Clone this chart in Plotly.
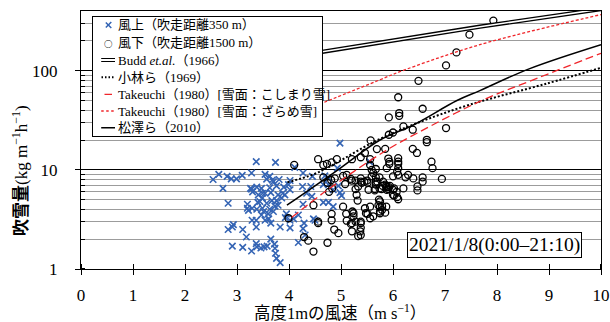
import plotly.graph_objects as go

# ---------------- data ----------------
# 風上（吹走距離350 m） : wind speed (m/s), drift (kg m-1 h-1)
up_u = [2.54, 2.65, 2.81, 2.89, 2.99, 3.10, 3.28, 3.37, 2.73, 3.28, 3.30, 3.49, 2.83, 3.20, 3.20, 3.22,
        3.29, 3.40, 3.49, 3.49, 3.51, 3.29, 3.37, 3.37, 2.83, 2.91, 3.11, 3.18, 2.91, 3.11, 3.28, 3.37,
        3.38, 3.46, 3.52, 2.93, 3.26, 3.38,
        3.74, 3.54, 3.63, 3.57, 3.70, 4.02, 4.11, 4.27, 3.47, 3.63, 3.76, 3.41, 3.54, 3.65, 3.79, 3.86,
        3.92, 3.44, 3.57, 3.67, 3.76, 3.38, 3.63, 3.73, 3.79, 3.47, 3.60, 3.70, 3.54, 3.65, 3.61, 4.02,
        3.83, 4.02, 4.27, 4.31, 4.18, 3.65, 3.72, 3.73, 3.74, 3.76, 3.83, 3.58, 4.45, 4.26, 4.42, 4.34,
        4.44, 4.69, 4.76, 4.66, 4.76, 4.85, 4.95, 4.98, 5.01, 4.27, 4.18, 4.29, 4.66, 4.76, 4.85, 4.47,
        4.98, 5.55, 4.93, 3.90, 3.99, 4.02, 3.95, 4.09, 3.93, 4.50, 3.81, 3.68, 3.88]
up_q = [8.0, 9.0, 8.6, 8.1, 8.1, 8.8, 9.3, 12.1, 6.5, 6.4, 6.0, 5.8, 4.6, 4.5, 4.1, 3.9,
        4.1, 4.7, 5.2, 4.1, 3.8, 3.1, 3.1, 2.65, 2.5, 2.65, 2.5, 2.1, 1.7, 1.65, 1.52, 1.8,
        1.67, 1.63, 1.67, 2.8, 6.5, 6.7,
        11.9, 9.0, 8.6, 8.05, 7.6, 7.8, 10.6, 9.3, 6.5, 6.6, 6.9, 5.6, 5.8, 5.9, 5.6, 5.2,
        5.6, 4.8, 4.6, 4.9, 4.9, 4.0, 4.0, 4.3, 4.4, 3.5, 3.6, 3.8, 3.1, 2.9, 3.2, 3.1,
        2.65, 2.6, 2.55, 2.2, 1.85, 2.0, 1.78, 1.62, 1.44, 1.28, 1.16, 1.7, 8.6, 6.8, 6.8, 5.8,
        5.4, 8.7, 8.3, 7.1, 7.1, 6.3, 6.9, 5.9, 5.5, 4.5, 3.5, 2.9, 4.7, 4.7, 4.25, 3.2,
        18.6, 12.1, 10.4, 6.7, 7.1, 6.3, 3.6, 3.2, 3.3, 3.1, 8.0, 7.9, 5.8]

# 風下（吹走距離1500 m）
down_u = [7.93, 7.47, 7.22, 7.02, 6.49, 6.10, 5.92, 6.12, 6.12, 6.57, 6.20, 5.92, 6.00, 6.38, 7.02, 6.65,
          6.65, 6.38, 5.85, 5.57, 5.69, 6.46, 5.21, 5.38, 5.56, 5.91, 5.93, 5.93, 6.10, 6.10, 6.10, 6.10,
          6.74, 6.76, 5.56, 5.59, 5.62, 5.59, 4.56, 4.66, 4.73, 4.82, 4.92, 5.67, 5.74, 5.70, 5.88, 6.08,
          6.29, 6.39, 6.57, 6.57, 6.94, 6.20, 6.47, 6.47, 5.08, 5.21, 5.38, 5.50, 5.40, 5.67, 5.74, 5.80,
          5.87, 5.88, 5.94, 6.02, 6.07, 6.02, 6.08, 5.30, 5.04, 5.24, 5.10, 5.46, 5.56, 5.62, 5.51, 5.75,
          5.75, 5.87, 5.85, 5.75, 4.82, 4.82, 4.56, 5.21, 5.38, 5.38, 5.38, 4.95, 5.21, 4.37, 4.29, 4.74,
          4.47, 4.10, 4.66, 4.74, 4.77, 4.83, 3.99, 4.47, 4.56, 4.87, 5.46, 6.00, 6.10, 6.24, 4.81, 4.88,
          5.04, 5.11, 5.19, 5.28, 5.38, 5.45, 5.51, 5.67, 5.67, 5.65, 5.81, 5.85, 5.88, 5.92, 5.78, 5.91,
          6.00, 6.00, 5.28, 5.33, 5.53, 5.65, 6.10, 5.32, 5.22, 5.72, 5.79, 5.73, 5.75, 5.48, 5.56, 5.11,
          5.24, 5.28, 5.19, 5.38, 5.37, 5.33, 5.79]
down_q = [320, 231, 153, 113, 79, 54, 33.8, 37.4, 35.1, 41.3, 27.4, 22.6, 23.8, 25.4, 26.4, 20.1,
          19.0, 16.3, 16.3, 19.8, 16.2, 14.8, 12.8, 13.4, 12.8, 13.0, 12.1, 11.5, 13.1, 12.1, 11.5, 10.4,
          12.1, 10.4, 11.2, 10.0, 9.3, 8.6, 12.8, 11.2, 11.5, 11.9, 12.8, 10.2, 8.4, 7.6, 10.4, 9.6,
          8.9, 8.2, 8.4, 7.6, 8.1, 6.5, 6.8, 6.2, 7.2, 7.8, 8.2, 7.8, 7.4, 7.1, 6.5, 6.9,
          6.9, 6.3, 6.9, 6.5, 6.0, 5.5, 5.3, 5.6, 4.25, 3.65, 3.6, 4.1, 4.25, 3.4, 3.6, 4.8,
          4.25, 4.25, 3.7, 3.65, 3.6, 3.1, 2.9, 2.9, 3.0, 2.6, 2.2, 2.3, 2.4, 1.93, 2.1, 1.84,
          1.5, 11.2, 8.4, 7.4, 6.0, 6.5, 3.25, 4.4, 3.0, 2.5, 14.8, 8.6, 8.9, 8.4, 7.9, 8.2,
          8.7, 8.9, 8.1, 7.8, 7.6, 7.6, 7.4, 8.4, 7.6, 6.4, 7.6, 7.1, 6.7, 6.7, 6.4, 6.4,
          6.3, 5.6, 6.4, 6.8, 6.3, 6.2, 5.05, 4.9, 3.8, 4.4, 4.3, 5.0, 3.8, 3.65, 3.25, 3.07,
          3.4, 3.0, 2.85, 2.9, 2.4, 2.15, 3.95]

budd_u = [4.4, 5.75, 7.67, 10.0]
budd_q = [148, 192, 278, 418]
kob_u = [3.97, 4.47, 4.88, 5.62, 6.38, 7.48, 8.95, 10.0]
kob_q = [7.5, 9.0, 11.5, 19.0, 28.5, 45.5, 74, 107]
tk1_u = [4.05, 4.69, 5.85, 6.5, 7.67, 8.8, 10.0]      # こしまり雪
tk1_q = [3.3, 6.0, 15.5, 24, 49, 85, 150]
tk2_u = [4.5, 5.75, 6.13, 7.67, 10.0]                 # ざらめ雪
tk2_q = [44, 81, 97.7, 183, 368]
mat_u = [3.96, 4.88, 5.75, 6.4, 7.23, 7.67, 8.63, 10.0]
mat_q = [4.4, 9.5, 20.0, 28.5, 50.0, 63.0, 105.0, 183.0]

x_ticks = list(range(0, 11))
y_major = [1, 10, 100]
y_minor = [2, 3, 4, 5, 6, 7, 8, 9, 20, 30, 40, 50, 60, 70, 80, 90, 200, 300]

legend_labels = ["風上（吹走距離350 m）", "風下（吹走距離1500 m）", "Budd <i>et.al.</i>（1966）",
                 "小林ら（1969）", "Takeuchi（1980）[雪面：こしまり雪]",
                 "Takeuchi（1980）[雪面：ざらめ雪]", "松澤ら（2010）"]

# ---------------- styling ----------------
SERIF = "Liberation Serif, Noto Sans CJK JP, serif"
BLUE = "#3464b4"
RED = "#f0262b"
W, H = 610, 322
L, R, T, B = 81, 9, 11, 53
PW, PH = W - L - R, H - T - B


def PX(px):
    return (px - L) / PW


def PY(py):
    return (H - B - py) / PH


# tiny offsets so that inner half-ticks sit on the major tick positions
x_cross = [min(max(t + 1e-4, 1e-4), 10 - 1e-4) for t in x_ticks]
y_cross = [v * 1.0002 for v in y_major[:-1]] + [v * 0.9998 for v in y_major[-1:]]

fig = go.Figure()
fig.add_trace(go.Scatter(x=up_u, y=up_q, mode="markers", showlegend=False,
                         marker=dict(symbol="x-thin", size=6.5, line=dict(color=BLUE, width=1.6))))
fig.add_trace(go.Scatter(x=down_u, y=down_q, mode="markers", showlegend=False,
                         marker=dict(symbol="circle-open", size=7, color="black", line=dict(width=1.3))))
fig.add_trace(go.Scatter(x=budd_u, y=budd_q, mode="lines", showlegend=False,
                         line=dict(color="black", width=4.2)))
fig.add_trace(go.Scatter(x=budd_u, y=budd_q, mode="lines", showlegend=False,
                         line=dict(color="white", width=1.6)))
fig.add_trace(go.Scatter(x=kob_u, y=kob_q, mode="lines", showlegend=False, line_shape="spline",
                         line=dict(color="black", width=2, dash="2px,2px")))
fig.add_trace(go.Scatter(x=tk1_u, y=tk1_q, mode="lines", showlegend=False, line_shape="spline",
                         line=dict(color=RED, width=1.3, dash="8px,4px")))
fig.add_trace(go.Scatter(x=tk2_u, y=tk2_q, mode="lines", showlegend=False, line_shape="spline",
                         line=dict(color=RED, width=1.3, dash="3px,2px")))
fig.add_trace(go.Scatter(x=mat_u, y=mat_q, mode="lines", showlegend=False, line_shape="spline",
                         line=dict(color="black", width=1.5)))

fig.update_layout(
    template="none", showlegend=False,
    width=W, height=H, margin=dict(l=L, r=R, t=T, b=B, autoexpand=False),
    paper_bgcolor="white", plot_bgcolor="white",
    font=dict(family=SERIF, size=17, color="black"),
    xaxis=dict(range=[0, 10], tickvals=x_ticks, ticks="outside", ticklen=5, tickwidth=1,
               tickcolor="black", showline=True, linecolor="black", linewidth=1, mirror=True,
               showgrid=False, zeroline=False, ticklabelstandoff=6, automargin=False,
               tickfont=dict(family=SERIF, size=17),
               minor=dict(tickmode="array", tickvals=x_cross, ticks="inside", ticklen=5,
                          tickcolor="black", showgrid=False)),
    yaxis=dict(type="log", range=[0, 2.60206], tickvals=y_major, ticktext=["1", "10", "100"],
               ticks="outside", ticklen=5, tickcolor="black", showline=True, linecolor="black",
               linewidth=1, mirror=True, showgrid=True, gridcolor="black", gridwidth=1,
               zeroline=False, ticklabelstandoff=14, automargin=False,
               tickfont=dict(family=SERIF, size=17),
               minor=dict(tickmode="array", tickvals=y_minor + y_cross, showgrid=True,
                          gridcolor="#9c9c9c", gridwidth=1, ticks="inside", ticklen=4,
                          tickcolor="black")),
)

ann = []
# legend frame: a white, bordered annotation box drawn above the traces
ann.append(dict(text=" ", xref="paper", yref="paper", x=PX(92.3), y=PY(15.7),
                xanchor="left", yanchor="top", showarrow=False, width=229.4, height=119.3,
                bgcolor="white", bordercolor="black", borderwidth=1, borderpad=0,
                font=dict(size=2)))
rows = [25, 42.7, 60, 77.3, 94.3, 111, 127.7]


def seg(x0, y0, x1, y1, color, width):
    """short line drawn as an arrow without head (pixel positions)"""
    ann.append(dict(text=" ", xref="paper", yref="paper", x=PX(x1), y=PY(y1),
                    ax=x0 - x1, ay=y0 - y1, showarrow=True, arrowhead=0, arrowwidth=width,
                    arrowcolor=color, standoff=0, startstandoff=0, borderpad=0,
                    font=dict(size=1)))


seg(105.3, rows[0] - 3, 111.3, rows[0] + 3, BLUE, 1.5)
seg(105.3, rows[0] + 3, 111.3, rows[0] - 3, BLUE, 1.5)
ann.append(dict(text="<b>○</b>", xref="paper", yref="paper", x=PX(108.3), y=PY(rows[1]),
                xanchor="center", yanchor="middle", showarrow=False,
                font=dict(family="Noto Sans CJK JP", size=8.5, color="black")))
seg(100.7, rows[2] - 1.5, 115, rows[2] - 1.5, "black", 1.1)
seg(100.7, rows[2] + 1.5, 115, rows[2] + 1.5, "black", 1.1)
for xd in [101, 104.5, 108, 111.5]:
    seg(xd, rows[3], xd + 2, rows[3], "black", 2)
seg(104, rows[4], 112, rows[4], RED, 1.3)
for xd in [100.7, 105.7, 110.7]:
    seg(xd, rows[5], xd + 3, rows[5], RED, 1.3)
seg(100.7, rows[6], 115, rows[6], "black", 1.5)

for lab, ry in zip(legend_labels, rows):
    ann.append(dict(text=lab, xref="paper", yref="paper", x=PX(116), y=PY(ry),
                    xanchor="left", yanchor="middle", showarrow=False,
                    font=dict(family=SERIF, size=13, color="black")))

ann.append(dict(text="2021/1/8(0:00–21:10)", xref="paper", yref="paper", x=PX(494),
                y=PY(244.5), xanchor="center", yanchor="middle", showarrow=False,
                bgcolor="white", bordercolor="black", borderwidth=1, borderpad=1,
                font=dict(family=SERIF, size=19.5, color="black")))
ann.append(dict(text="高度1mの風速（m s<sup>−1</sup>）", xref="paper", yref="paper",
                x=PX(340), y=PY(312), xanchor="center", yanchor="middle", showarrow=False,
                font=dict(family=SERIF, size=16.5, color="black")))
ann.append(dict(text="<b>吹雪量</b>(kg m<sup>−1</sup>h<sup>−1</sup>)", xref="paper",
                yref="paper", x=PX(20), y=PY(171), xanchor="center", yanchor="middle",
                textangle=-90, showarrow=False,
                font=dict(family=SERIF, size=17, color="black")))

fig.update_layout(annotations=ann)
fig.write_html("out.html")
